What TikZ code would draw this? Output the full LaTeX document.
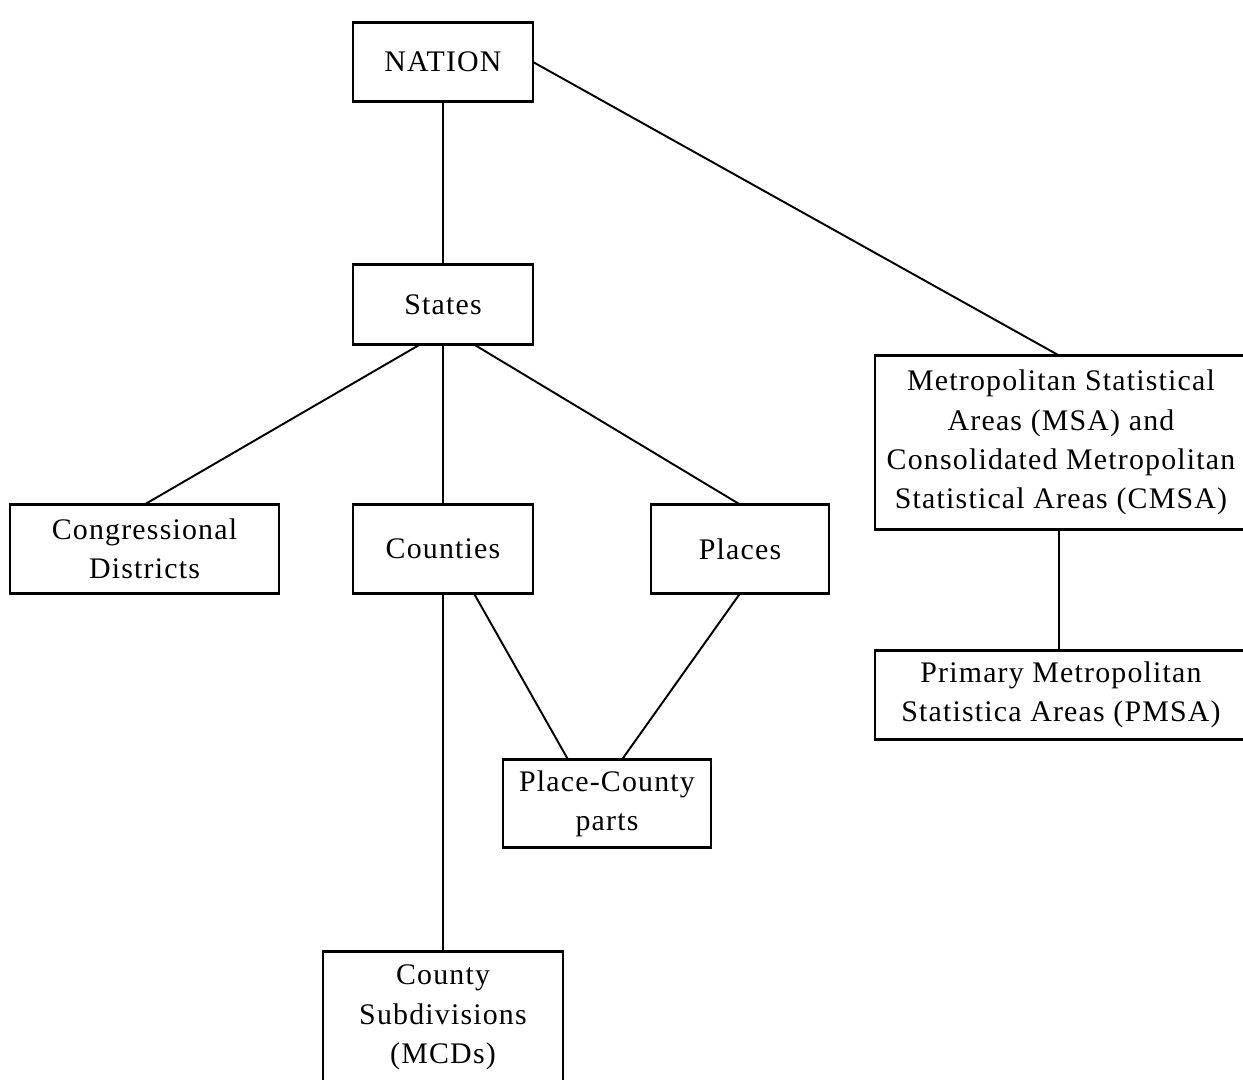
\documentclass[tikz,border=0pt]{standalone}
\usepackage{fontspec}
\newfontfamily\boxfont[LetterSpace=4]{Liberation Serif}
\usepackage{tikz}
\usetikzlibrary{positioning}

\begin{document}
\begin{tikzpicture}[
        node distance=3.2cm and 1.5cm,
        box/.style={rectangle, draw, line width=1.5pt, inner sep=0pt, outer sep=0pt, align=center,
            minimum height=1.78cm, font=\boxfont\fontsize{17}{22.4}\selectfont},
        link/.style={line width=1.1pt}
    ]
        \useasboundingbox (0,0) rectangle (24.86,-21.6);

        % Nodes
        \node[box, minimum width=3.6cm, minimum height=1.58cm] (nation) at (8.86,-1.24) {NATION};
        \node[box, minimum width=3.6cm, minimum height=1.6cm, below=3.26cm of nation] (states) {States};
        \node[box, minimum width=3.6cm, below=3.2cm of states] (counties) {Counties};
        \node[box, minimum width=5.38cm, left=1.48cm of counties] (congress) {Congressional\\Districts};
        \node[box, minimum width=3.56cm, right=2.36cm of counties] (places) {Places};
        \node[box, minimum width=4.16cm, minimum height=1.76cm, below=3.32cm of counties, xshift=3.28cm] (placecounty) {Place-County\\parts};
        \node[box, minimum width=4.8cm, minimum height=2.64cm, below=7.16cm of counties] (subdiv) {County\\Subdivisions\\(MCDs)};
        \node[box, minimum width=7.44cm, minimum height=3.48cm, right=6.84cm of states.east, anchor=west, yshift=-2.76cm] (msa) {Metropolitan Statistical\\Areas (MSA) and\\Consolidated Metropolitan\\Statistical Areas (CMSA)};
        \node[box, minimum width=7.44cm, below=2.42cm of msa] (pmsa) {Primary Metropolitan\\Statistica Areas (PMSA)};

        % Lines
        \draw[link] (nation) -- (states);
        \draw[link] (nation.east) -- (msa.north -| 21.18,0);
        \draw[link] ([xshift=-0.46cm]states.south) -- (congress.north);
        \draw[link] (states) -- (counties);
        \draw[link] ([xshift=0.62cm]states.south) -- (places.north);
        \draw[link] (counties) -- (subdiv);
        \draw[link] ([xshift=0.62cm]counties.south) -- ([xshift=-0.78cm]placecounty.north);
        \draw[link] (places.south) -- ([xshift=0.3cm]placecounty.north);
        \draw[link] (msa.south -| 21.18,0) -- (pmsa.north -| 21.18,0);
    \end{tikzpicture}
\end{document}
